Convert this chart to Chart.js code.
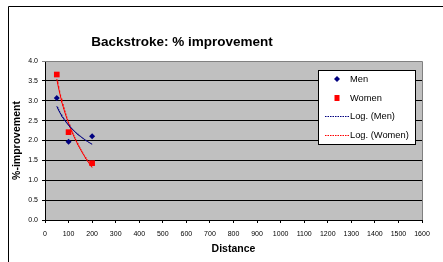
<!DOCTYPE html>
<html>
<head>
<meta charset="utf-8">
<script src="https://cdn.jsdelivr.net/npm/chart.js@4"></script>
<style>
  html, body { margin:0; padding:0; background:#fff; }
  #wrap { width:443px; height:262px; position:relative; }
</style>
</head>
<body>
<div id="wrap"><canvas id="chart" width="443" height="262"></canvas></div>
<script>
// Data
const distances = [50, 100, 200];
const menValues = [3.07, 1.97, 2.11];
const womenValues = [3.66, 2.21, 1.43];
const seriesNames = ['Men', 'Women', 'Log. (Men)', 'Log. (Women)'];
const xRange = [0, 1600];
const yRange = [0, 4];

const FONT = '"Liberation Sans", Arial, sans-serif';
const NAVY = '#000080';
const RED = '#ff0000';

// Logarithmic trendline (least squares y = a + b ln x), like the spreadsheet does
function logTrend(xs, ys){
  const lx = xs.map(Math.log);
  const n = xs.length;
  const mx = lx.reduce((s,v)=>s+v,0)/n;
  const my = ys.reduce((s,v)=>s+v,0)/n;
  let sxy = 0, sxx = 0;
  for(let i=0;i<n;i++){ sxy += (lx[i]-mx)*(ys[i]-my); sxx += (lx[i]-mx)**2; }
  const b = sxy/sxx, a = my - b*mx;
  const lo = Math.min(...xs), hi = Math.max(...xs);
  const pts = [];
  for(let x=lo; x<=hi; x+=2) pts.push({x, y: a + b*Math.log(x)});
  return pts;
}

const toPts = (xs, ys) => xs.map((x,i)=>({x, y: ys[i]}));

// Background, outer frame, plot fill
const framePlugin = {
  id: 'frame',
  beforeDraw(chart){
    const {ctx, chartArea:a} = chart;
    ctx.save();
    ctx.fillStyle = '#fff';
    ctx.fillRect(0,0,chart.width,chart.height);
    ctx.strokeStyle = '#000';
    ctx.lineWidth = 1;
    ctx.beginPath();
    ctx.moveTo(8.5, chart.height);
    ctx.lineTo(8.5, 6.5);
    ctx.lineTo(chart.width, 6.5);
    ctx.stroke();
    ctx.fillStyle = '#c0c0c0';
    ctx.fillRect(a.left, a.top, a.right-a.left, a.bottom-a.top);
    // title
    ctx.fillStyle = '#000';
    ctx.font = 'bold 13.5px ' + FONT;
    ctx.textAlign = 'center';
    ctx.textBaseline = 'middle';
    ctx.fillText('Backstroke: % improvement', 182, 42);
    ctx.restore();
  },
  afterDatasetsDraw(chart){
    const {ctx, chartArea:a} = chart;
    ctx.save();
    ctx.strokeStyle = '#808080';
    ctx.lineWidth = 1;
    ctx.beginPath();
    ctx.moveTo(a.left, Math.round(a.top)+0.5);
    ctx.lineTo(Math.round(a.right)+0.5, Math.round(a.top)+0.5);
    ctx.lineTo(Math.round(a.right)+0.5, a.bottom);
    ctx.stroke();
    ctx.restore();
  }
};

// Legend box inside the plot
const legendPlugin = {
  id: 'boxLegend',
  afterDraw(chart){
    const {ctx} = chart;
    const bx = 318, by = 70, bw = 97, bh = 74;
    ctx.save();
    ctx.fillStyle = '#fff';
    ctx.fillRect(bx, by, bw, bh);
    ctx.strokeStyle = '#000';
    ctx.lineWidth = 1;
    ctx.strokeRect(bx+0.5, by+0.5, bw, bh);
    ctx.font = '9.3px ' + FONT;
    ctx.textBaseline = 'middle';
    ctx.textAlign = 'left';
    const rows = [79, 98, 116, 135];
    // Men diamond
    ctx.fillStyle = NAVY;
    ctx.beginPath();
    ctx.moveTo(337, rows[0]-3); ctx.lineTo(340, rows[0]); ctx.lineTo(337, rows[0]+3); ctx.lineTo(334, rows[0]);
    ctx.closePath(); ctx.fill();
    // Women square
    ctx.fillStyle = RED;
    ctx.fillRect(334.5, rows[1]-3, 5, 6);
    // dotted lines
    ctx.setLineDash([1.5, 1]);
    ctx.strokeStyle = NAVY;
    ctx.beginPath(); ctx.moveTo(325, rows[2]+0.5); ctx.lineTo(349, rows[2]+0.5); ctx.stroke();
    ctx.strokeStyle = RED;
    ctx.beginPath(); ctx.moveTo(325, rows[3]+0.5); ctx.lineTo(349, rows[3]+0.5); ctx.stroke();
    ctx.setLineDash([]);
    ctx.fillStyle = '#000';
    ctx.fillText(seriesNames[0], 350, rows[0]);
    ctx.fillText(seriesNames[1], 350, rows[1]);
    ctx.fillText(seriesNames[2], 350, rows[2]);
    ctx.fillText(seriesNames[3], 350, rows[3]);
    ctx.restore();
  }
};

new Chart(document.getElementById('chart'), {
  type: 'scatter',
  data: {
    datasets: [
      { label: seriesNames[2], data: logTrend(distances, menValues), showLine: true,
        borderColor: NAVY, borderWidth: 1, pointRadius: 0, tension: 0 },
      { label: seriesNames[3], data: logTrend(distances, womenValues), showLine: true,
        borderColor: RED, borderWidth: 1, pointRadius: 0, tension: 0 },
      { label: seriesNames[0], data: toPts(distances, menValues), pointStyle: 'rectRot',
        pointRadius: 3, backgroundColor: NAVY, borderColor: NAVY, borderWidth: 0 },
      { label: seriesNames[1], data: toPts(distances, womenValues), pointStyle: 'rect',
        pointRadius: 4, backgroundColor: RED, borderColor: RED, borderWidth: 0 },
    ]
  },
  options: {
    responsive: false,
    animation: false,
    events: [],
    layout: { padding: { top: 61, right: 21, left: 11, bottom: 7 } },
    plugins: { legend: { display: false }, title: { display: false }, tooltip: { enabled: false } },
    scales: {
      x: {
        type: 'linear', min: xRange[0], max: xRange[1],
        ticks: { stepSize: 100, color: '#000', font: { family: FONT, size: 7 }, padding: 7, maxRotation: 0, autoSkip: false,
          callback: v => String(v) },
        grid: { drawOnChartArea: false, drawTicks: true, tickLength: 3, color: '#000' },
        border: { color: '#000', width: 1 },
        title: { display: true, text: 'Distance', color: '#000', font: { family: FONT, size: 10.5, weight: 'bold' }, padding: 0 },
        afterFit(s){ s.height = 35; }
      },
      y: {
        type: 'linear', min: yRange[0], max: yRange[1],
        ticks: { stepSize: 0.5, color: '#000', font: { family: FONT, size: 7 }, padding: 4, callback: v => v.toFixed(1) },
        grid: { color: c => c.tick && c.tick.value === yRange[1] ? '#808080' : '#000', lineWidth: 1, tickLength: 3 },
        border: { color: '#000', width: 1 },
        title: { display: true, text: '%-improvement', color: '#000', font: { family: FONT, size: 10.5, weight: 'bold' }, padding: 0 },
        afterFit(s){ s.width = 34; }
      }
    }
  },
  plugins: [framePlugin, legendPlugin]
});
</script>
</body>
</html>
